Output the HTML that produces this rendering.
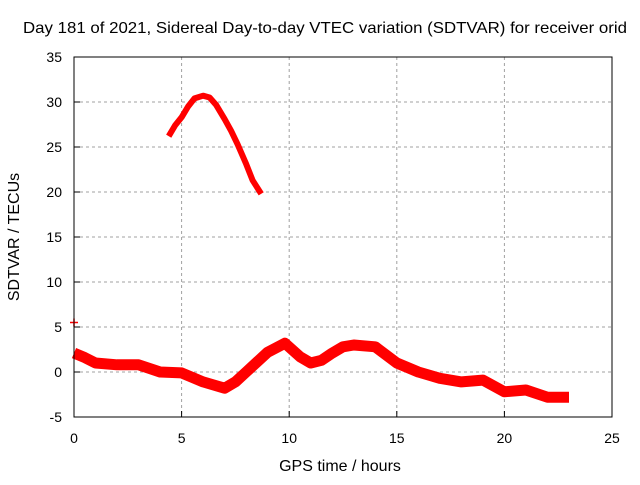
<!DOCTYPE html>
<html><head><meta charset="utf-8"><style>
body{margin:0;background:#fff}
text{font-family:"Liberation Sans",sans-serif;font-size:14px;fill:#000}
</style></head><body>
<svg width="640" height="480">
<text x="325" y="33" text-anchor="middle" textLength="604" lengthAdjust="spacingAndGlyphs" style="font-size:16px">Day 181 of 2021, Sidereal Day-to-day VTEC variation (SDTVAR) for receiver orid</text>
<g id="grid"></g><g id="marks"></g><g id="axes"></g>
<text x="340" y="471" text-anchor="middle" style="font-size:16px">GPS time / hours</text>
<text transform="translate(19,237) rotate(-90)" text-anchor="middle" style="font-size:16px">SDTVAR / TECUs</text>
</svg>
<script>
const xTicks=[0,5,10,15,20,25];
const yTicks=[-5,0,5,10,15,20,25,30,35];
const lowT=[0,0.5,1,2,3,4,5,6,7,7.5,8,9,9.8,10.5,11,11.5,12,12.5,13,14,15,16,17,18,19,20,21,22,23];
const lowV=[2.1,1.6,1.0,0.8,0.8,0,-0.1,-1.1,-1.8,-1.1,0,2.2,3.2,1.7,1.0,1.3,2.1,2.8,3.0,2.8,1.0,0,-0.7,-1.1,-0.9,-2.2,-2.0,-2.8,-2.8];
const highT=[4.4,4.7,5,5.3,5.6,6,6.3,6.6,7,7.3,7.6,8,8.3,8.7];
const highV=[26.2,27.4,28.3,29.5,30.4,30.7,30.5,29.7,28.1,26.8,25.3,23.1,21.3,19.8];
const NS="http://www.w3.org/2000/svg";
const X0=74,X1=612,Y0=417,Y1=57;
const xs=t=>X0+(t-0)/25*(X1-X0);
const ys=v=>Y0-(v+5)/40*(Y0-Y1);
function mk(tag,attrs,parent){const e=document.createElementNS(NS,tag);for(const k in attrs)e.setAttribute(k,attrs[k]);document.getElementById(parent).appendChild(e);return e;}
xTicks.forEach(t=>{
 if(t>0&&t<25){const g=mk('line',{x1:xs(t),x2:xs(t),y1:Y1,y2:Y0,stroke:'#a0a0a0','stroke-dasharray':'3,3'},'grid');
 
 }
 const tk=mk('line',{x1:xs(t),x2:xs(t),y1:Y0,y2:Y0-6,stroke:'#000'},'axes');
 
 
 const l=mk('text',{x:xs(t),y:Y0+26,'text-anchor':'middle'},'axes');l.textContent=t;
 
 
});
yTicks.forEach(v=>{
 if(v>-5&&v<35){const g=mk('line',{x1:X0,x2:X1,y1:ys(v),y2:ys(v),stroke:'#a0a0a0','stroke-dasharray':'3,3'},'grid');
 
 }
 const tk=mk('line',{x1:X0,x2:X0+6,y1:ys(v),y2:ys(v),stroke:'#000'},'axes');
 
 
 const l=mk('text',{x:X0-12,y:ys(v)+5,'text-anchor':'end'},'axes');l.textContent=v;
 
 
});
const fr=mk('rect',{x:X0,y:Y1,width:X1-X0,height:Y0-Y1,fill:'none',stroke:'#000'},'axes');


function series(T,V,w,name){
 const d=T.map((t,i)=>(i?'L':'M')+xs(t).toFixed(1)+','+ys(V[i]).toFixed(1)).join(' ');
 const p=mk('path',{d:d,fill:'none',stroke:'#ff0000','stroke-width':w,'stroke-linejoin':'round','stroke-linecap':'butt'},'marks');
 
 
}
series(lowT,lowV,11,'sdtvar-low-series');
series(highT,highV,6,'sdtvar-high-series');
const pt=mk('path',{d:'M'+(xs(0)-4)+','+ys(5.5)+' h8 M'+xs(0)+','+(ys(5.5)-4)+' v8',stroke:'#ff0000','stroke-width':1.5},'marks');


</script>
</body></html>
